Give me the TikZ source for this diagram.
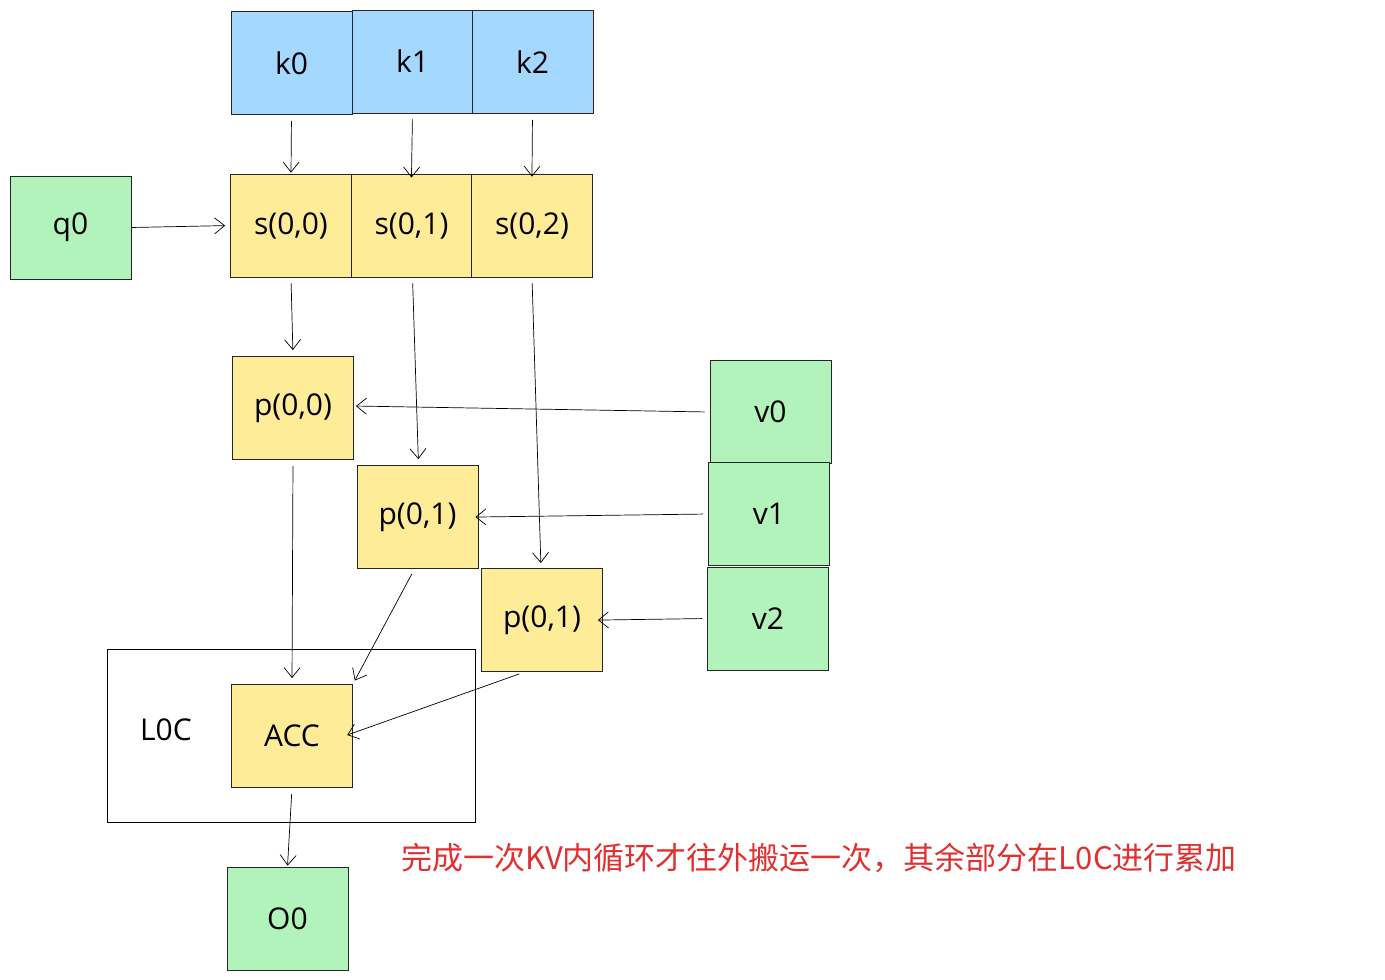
\documentclass[tikz,border=0pt]{standalone}
\usepackage{fontspec}
\setmainfont{Open Sans}
\newfontfamily\cjk{Noto Sans CJK SC}
\usetikzlibrary{arrows.meta,calc}
\definecolor{cblue}{HTML}{A5D8FF}
\definecolor{cyel}{HTML}{FFEC99}
\definecolor{cgreen}{HTML}{B2F2BB}
\definecolor{cred}{HTML}{E03131}
\begin{document}
\begin{tikzpicture}[x=1pt,y=-1pt,
  box/.style={draw=black!85,line width=0.8pt,minimum width=121pt,minimum height=103pt,inner sep=0pt,font=\fontsize{30}{30}\selectfont},
  bl/.style={box,fill=cblue},ye/.style={box,fill=cyel},gr/.style={box,fill=cgreen},
  arr/.style={draw=black,line width=0.7pt,-{Straight Barb[length=10pt,width=16pt,line width=0.7pt]},shorten <=6pt}]
\useasboundingbox (0,0) rectangle (1385,980);
\draw[line width=0.8pt] (107,649) rectangle (475,822);
\node[font=\fontsize{30}{30}\selectfont] (loc) at (166,730) {L0C};
\node[bl] (k0) at (291.5,63) {k0};
\node[bl] (k1) at (412.5,61.5) {k1};
\node[bl] (k2) at (532.5,62) {k2};
\node[gr] (q0) at (70.5,227.5) {q0};
\node[ye] (s00) at (291,225.5) {s(0,0)};
\node[ye] (s01) at (411.5,225.5) {s(0,1)};
\node[ye] (s02) at (532,225.5) {s(0,2)};
\node[ye] (p00) at (293,408) {p(0,0)};
\node[ye] (p01) at (417.5,517) {p(0,1)};
\node[ye] (p02) at (542,620) {p(0,1)};
\node[gr] (v0) at (770.5,412) {v0};
\node[gr] (v1) at (769,514) {v1};
\node[gr] (v2) at (768,618.5) {v2};
\node[ye] (acc) at (292,736) {ACC};
\node[gr] (o0) at (287.5,918.5) {O0};
\node[text=cred,anchor=west,font=\cjk\fontsize{31}{31}\selectfont] (note) at (398,858) {完成一次KV内循环才往外搬运一次，其余部分在L0C进行累加};
\draw[arr,shorten >=1pt] (k0.south) -- (s00.north);
\draw[arr,shorten >=-4pt] (k1.south) -- (s01.north);
\draw[arr,shorten >=-3pt] (k2.south) -- (s02.north);
\draw[arr,shorten <=0pt,shorten >=5pt] (q0.east) -- (s00.west);
\draw[arr,shorten >=6pt] (s00.south) -- (p00.north);
\draw[arr,shorten >=6pt] ($(s01.south)+(1,0)$) -- ($(p01.north)+(1,0)$);
\draw[arr,shorten >=5pt] (s02.south) -- ($(p02.north)+(-1,0)$);
\draw[arr,shorten <=5pt,shorten >=2pt] (v0.west) -- ($(p00.east)+(0,-2)$);
\draw[arr,shorten <=5pt,shorten >=-3pt] (v1.west) -- (p01.east);
\draw[arr,shorten <=5pt,shorten >=-5pt] (v2.west) -- (p02.east);
\draw[arr,shorten >=6pt] (p00.south) -- (acc.north);
\draw[arr,shorten >=4pt] ($(p01.south)+(-3,0)$) -- (acc.north east);
\draw[arr,shorten >=-6pt] ($(p02.south)+(-17,0)$) -- ($(acc.east)+(0,-3)$);
\draw[arr,shorten >=1pt] (acc.south) -- (o0.north);
\end{tikzpicture}
\end{document}
